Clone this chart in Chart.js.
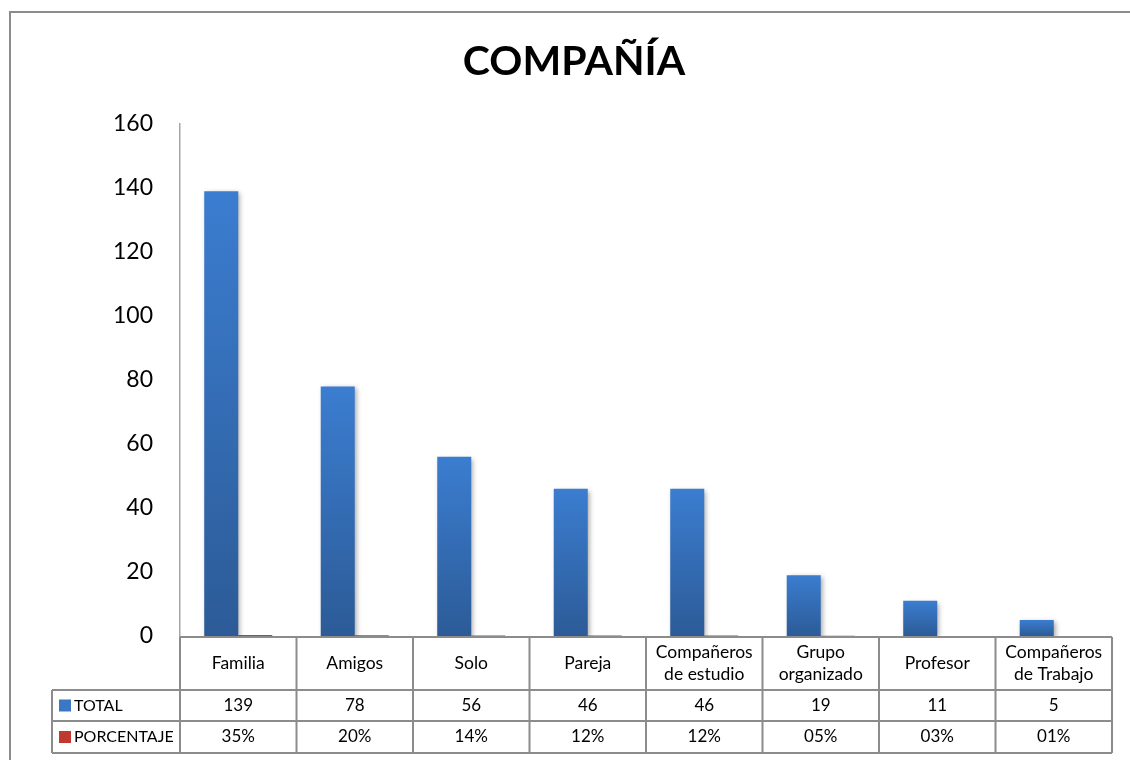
<!DOCTYPE html>
<html>
<head>
<meta charset="utf-8">
<script src="https://cdn.jsdelivr.net/npm/chart.js@4"></script>
<style>
  html, body { margin: 0; padding: 0; background: #ffffff; }
  #wrap { width: 1130px; height: 760px; position: relative; }
</style>
</head>
<body>
<div id="wrap"><canvas id="c" width="1130" height="760"></canvas></div>
<script>
const chartTitle = 'COMPAÑÍA';
const categories = [['Familia'], ['Amigos'], ['Solo'], ['Pareja'], ['Compañeros', 'de estudio'], ['Grupo', 'organizado'], ['Profesor'], ['Compañeros', 'de Trabajo']];
const seriesNames = ['TOTAL', 'PORCENTAJE'];
const totalValues = [139, 78, 56, 46, 46, 19, 11, 5];
const porcentajeValues = [0.35, 0.20, 0.14, 0.12, 0.12, 0.05, 0.03, 0.01];
const totalLabels = ['139', '78', '56', '46', '46', '19', '11', '5'];
const porcentajeLabels = ['35%', '20%', '14%', '12%', '12%', '05%', '03%', '01%'];
const yMin = 0, yMax = 160, yStep = 20;

const FONT = 'Lato, "Open Sans", sans-serif';

function barGradient(top, bottom) {
  return function (context) {
    const chart = context.chart;
    const ys = chart.scales && chart.scales.y;
    if (!ys || context.parsed === undefined || context.parsed.y === undefined) return bottom;
    const yTop = ys.getPixelForValue(context.parsed.y);
    const yBase = ys.getPixelForValue(0);
    if (!isFinite(yTop) || !isFinite(yBase) || Math.abs(yBase - yTop) < 2) return bottom;
    const g = chart.ctx.createLinearGradient(0, yTop, 0, yBase);
    g.addColorStop(0, top);
    g.addColorStop(1, bottom);
    return g;
  };
}

const shadowPlugin = {
  id: 'shadow',
  beforeDatasetDraw(chart, args) {
    const ctx = chart.ctx;
    ctx.save();
    if (args.index === 0) {
      ctx.shadowColor = 'rgba(0,0,0,0.35)';
      ctx.shadowBlur = 5;
      ctx.shadowOffsetX = 2;
      ctx.shadowOffsetY = 2;
    }
  },
  afterDatasetDraw(chart) {
    chart.ctx.restore();
  }
};

const framePlugin = {
  id: 'frame',
  beforeDraw(chart) {
    const ctx = chart.ctx;
    ctx.save();
    ctx.fillStyle = '#ffffff';
    ctx.fillRect(0, 0, chart.width, chart.height);
    ctx.strokeStyle = '#8c8c8c';
    ctx.lineWidth = 2;
    ctx.strokeRect(10, 12, chart.width + 20, chart.height + 20);
    ctx.fillStyle = '#000000';
    ctx.font = 'bold 41px ' + FONT;
    ctx.textAlign = 'center';
    ctx.textBaseline = 'middle';
    ctx.fillText(chartTitle, 574, 62);
    ctx.restore();
  },
  afterDraw(chart) {
    const ctx = chart.ctx;
    const area = chart.chartArea;
    const n = categories.length;
    const w = (area.right - area.left) / n;
    const y0 = area.bottom + 1;
    const y1 = y0 + 53;
    const y2 = y1 + 31;
    const y3 = y2 + 32;
    const xL = 52;
    ctx.save();
    ctx.strokeStyle = '#8c8c8c';
    ctx.lineWidth = 2;
    ctx.beginPath();
    ctx.moveTo(area.left, y0); ctx.lineTo(area.right, y0);
    ctx.moveTo(xL, y1); ctx.lineTo(area.right, y1);
    ctx.moveTo(xL, y2); ctx.lineTo(area.right, y2);
    ctx.moveTo(xL, y3); ctx.lineTo(area.right, y3);
    ctx.moveTo(xL, y1); ctx.lineTo(xL, y3);
    for (let i = 0; i <= n; i++) {
      const x = area.left + i * w;
      ctx.moveTo(x, y0); ctx.lineTo(x, y3);
    }
    ctx.stroke();

    ctx.fillStyle = '#000000';
    ctx.textAlign = 'center';
    ctx.textBaseline = 'middle';
    for (let i = 0; i < n; i++) {
      const cx = area.left + (i + 0.5) * w;
      const lines = categories[i];
      const lh = 22;
      const mid = (y0 + y1) / 2;
      ctx.font = '17.5px ' + FONT;
      lines.forEach((t, k) => {
        ctx.fillText(t, cx, mid + (k - (lines.length - 1) / 2) * lh);
      });
      ctx.font = '17px ' + FONT;
      ctx.fillText(totalLabels[i], cx, (y1 + y2) / 2);
      ctx.fillText(porcentajeLabels[i], cx, (y2 + y3) / 2);
    }
    ctx.textAlign = 'left';
    ctx.fillStyle = '#3a78c6';
    ctx.fillRect(59, (y1 + y2) / 2 - 6, 12, 12);
    ctx.fillStyle = '#c0392f';
    ctx.fillRect(59, (y2 + y3) / 2 - 6, 12, 12);
    ctx.fillStyle = '#000000';
    ctx.font = '16px ' + FONT;
    ctx.fillText(seriesNames[0], 74, (y1 + y2) / 2);
    ctx.fillText(seriesNames[1], 74, (y2 + y3) / 2);
    ctx.restore();
  }
};

new Chart(document.getElementById('c'), {
  type: 'bar',
  data: {
    labels: categories,
    datasets: [
      {
        label: seriesNames[0],
        data: totalValues,
        backgroundColor: barGradient('#3b7dd0', '#2c5b97'),
        borderWidth: 0
      },
      {
        label: seriesNames[1],
        data: porcentajeValues,
        backgroundColor: barGradient('#cf4f4b', '#b04440'),
        borderWidth: 0
      }
    ]
  },
  options: {
    responsive: false,
    animation: false,
    devicePixelRatio: 1,
    layout: { padding: { left: 0, right: 18, top: 124, bottom: 124 } },
    plugins: {
      legend: { display: false },
      title: { display: false },
      tooltip: { enabled: false }
    },
    datasets: {
      bar: { categoryPercentage: 0.584, barPercentage: 1.0 }
    },
    scales: {
      x: {
        display: false,
        grid: { display: false }
      },
      y: {
        min: yMin,
        max: yMax,
        afterFit(scale) { scale.width = 180; },
        ticks: {
          stepSize: yStep,
          padding: 27,
          color: '#000000',
          font: { family: FONT, size: 23 }
        },
        grid: { display: false, drawTicks: false },
        border: { display: true, color: '#a6a6a6', width: 1.5 }
      }
    }
  },
  plugins: [framePlugin, shadowPlugin]
});
</script>
</body>
</html>
